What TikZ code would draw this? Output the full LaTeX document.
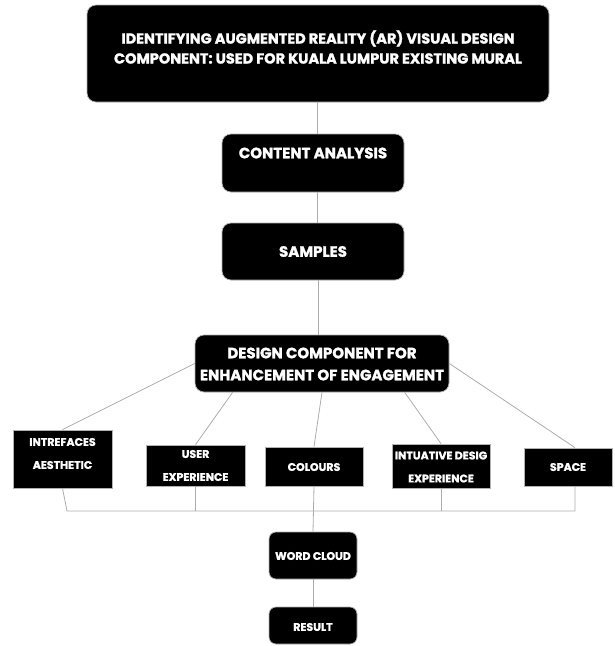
\documentclass[tikz,border=0pt]{standalone}
\usepackage{fontspec}
\setmainfont{Poppins}[BoldFeatures={FakeBold=1.5}]
\usetikzlibrary{calc}
\begin{document}
\begin{tikzpicture}[x=1pt,y=-1pt,
  rbox/.style={fill=black, draw=gray!60, line width=0.7pt, rounded corners=9pt, inner sep=0pt},
  sbox/.style={fill=black, draw=gray!60, line width=0.7pt, inner sep=0pt},
  lbl/.style={text=white, align=center, inner sep=0pt},
  big/.style={font=\fontsize{14.5}{20}\selectfont\bfseries},
  mid/.style={font=\fontsize{15}{22}\selectfont\bfseries},
  small/.style={font=\fontsize{11}{23}\selectfont\bfseries},
  conn/.style={draw=gray!65, line width=0.8pt}]
\useasboundingbox (0,0) rectangle (614,646);

% boxes
\node[rbox, minimum width=462pt, minimum height=97pt] (top) at (318,53.5) {};
\node[rbox, minimum width=182pt, minimum height=58pt] (content) at (313,163) {};
\node[rbox, minimum width=182pt, minimum height=57pt] (samples) at (313,251.5) {};
\node[rbox, minimum width=254pt, minimum height=57pt] (design) at (322,363.5) {};
\node[sbox, minimum width=99pt, minimum height=58pt] (intref) at (62.5,459) {};
\node[sbox, minimum width=99pt, minimum height=41pt] (user) at (195.5,465.5) {};
\node[sbox, minimum width=98pt, minimum height=39pt] (colours) at (314,466.5) {};
\node[sbox, minimum width=98pt, minimum height=44pt] (intu) at (441,466) {};
\node[sbox, minimum width=88pt, minimum height=38pt] (space) at (568,467) {};
\node[rbox, rounded corners=7pt, minimum width=88pt, minimum height=47pt] (wordc) at (313,555.5) {};
\node[rbox, rounded corners=7pt, minimum width=88pt, minimum height=37pt] (result) at (313,625.5) {};

% labels
\node[lbl, big] (ttop) at (318,47) {IDENTIFYING AUGMENTED REALITY (AR) VISUAL DESIGN\\COMPONENT: USED FOR KUALA LUMPUR EXISTING MURAL};
\node[lbl, mid] (tcontent) at (313,153) {CONTENT ANALYSIS};
\node[lbl, mid] (tsamples) at (313,251.5) {SAMPLES};
\node[lbl, mid] (tdesign) at (322,364) {DESIGN COMPONENT FOR\\ENHANCEMENT OF ENGAGEMENT};
\node[lbl, small] (tintref) at (62.5,453.5) {INTREFACES\\AESTHETIC};
\node[lbl, small] (tuser) at (195.5,465.5) {USER\\EXPERIENCE};
\node[lbl, small] (tcolours) at (314,467) {COLOURS};
\node[lbl, small] (tintu) at (441,467) {INTUATIVE DESIG\\EXPERIENCE};
\node[lbl, small] (tspace) at (568,467) {SPACE};
\node[lbl, small] (twordc) at (313,556) {WORD CLOUD};
\node[lbl, small] (tresult) at (313,627) {RESULT};

% connectors
\coordinate (bl) at (67,511);
\coordinate (br) at (575,511);
\draw[conn] (top.south -| 317,0) -- (content.north -| 317,0);
\draw[conn] (content.south -| 317,0) -- (samples.north -| 317,0);
\draw[conn] (samples.south -| 318,0) -- (design.north -| 318,0);
\draw[conn] (design.west) -- (intref.north);
\draw[conn] ($(design.south west)+(38,0)$) -- (user.north);
\draw[conn] (design.south) -- (colours.north);
\draw[conn] ($(design.south west)+(210,0)$) -- (intu.north);
\draw[conn] (design.east) -- (br |- space.north);
\draw[conn] (intref.south) -- (bl) -- (br) -- (br |- space.south);
\draw[conn] (user.south) -- (user.south |- bl);
\draw[conn] (intu.south) -- (intu.south |- bl);
\draw[conn] (colours.south) -- (wordc.north);
\draw[conn] (wordc.south) -- (result.north);
\end{tikzpicture}
\end{document}
